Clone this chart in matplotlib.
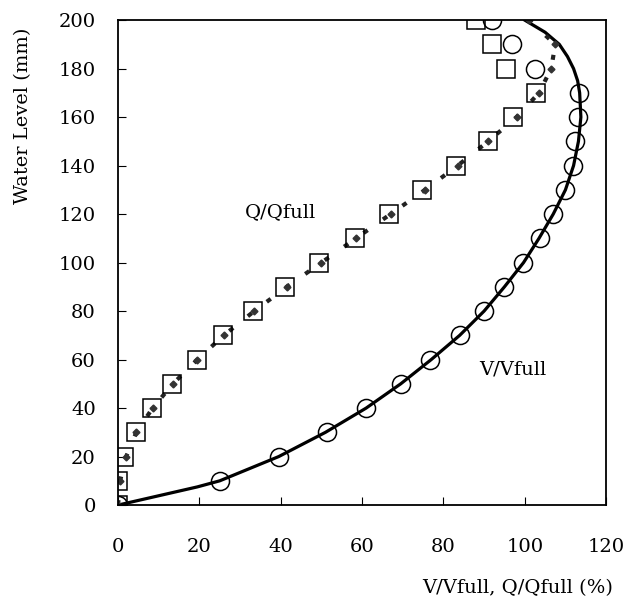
import matplotlib
matplotlib.use('Agg')
import matplotlib.pyplot as plt

plt.rcParams['font.family'] = ['DejaVu Serif']

# measured points (water level in mm)
level = [0, 10, 20, 30, 40, 50, 60, 70, 80, 90, 100,
         110, 120, 130, 140, 150, 160, 170, 180, 190, 200]
v_meas = [0, 25, 39.5, 51.4, 61, 69.6, 76.8, 84, 89.9, 94.8, 99.5,
          103.7, 107, 109.9, 111.9, 112.3, 113.1, 113.3, 102.5, 96.8, 91.9]
q_meas = [0, 0, 1.5, 4.4, 8.4, 13.3, 19.5, 25.7, 33.1, 41, 49.4,
          58.3, 66.7, 74.8, 83, 90.9, 97, 102.7, 95.3, 92, 88]

# theoretical curves
v_level = [0, 7.5, 10, 20, 30, 40, 50, 60, 70, 80, 90, 100, 110, 120,
           130, 140, 150, 160, 170, 175, 180, 185, 190, 195, 200]
v_theory = [0, 19.5, 25, 39.5, 51, 61, 69.5, 77, 84, 90, 95, 99.7, 103.5, 107,
            110, 112, 113.2, 113.8, 113.5, 113, 112, 110.5, 108.5, 105, 100]
q_level = [0, 10, 20, 30, 40, 50, 60, 70, 80, 90, 100,
           110, 120, 130, 140, 150, 160, 170, 180, 190, 200]
q_theory = [0, 0.5, 2, 4.5, 8.5, 13.5, 19.5, 26, 33.5, 41.5, 50,
            58.5, 67, 75.5, 83.5, 91, 98, 103.5, 106.5, 107.5, 101]

fig = plt.figure(figsize=(6.38, 6.10), dpi=100)
ax = fig.add_axes([0.185, 0.172, 0.765, 0.795])

ax.plot(v_theory, v_level, color='black', lw=2.3, zorder=2)
ax.plot(q_theory, q_level, color='#222222', lw=3, ls=(0, (1.2, 4.5)),
        marker='D', ms=3.5, mfc='#333333', mec='#333333', zorder=2)
ax.plot(v_meas, level, 'o', ms=13, mfc='none', mec='black', mew=1.1, zorder=3)
ax.plot(q_meas, level, 's', ms=13, mfc='none', mec='black', mew=1.1, zorder=3)

ax.text(40, 121, 'Q/Qfull', fontsize=14, ha='center', va='center')
ax.text(97, 56, 'V/Vfull', fontsize=14, ha='center', va='center')

ax.set_xlim(0, 120)
ax.set_ylim(0, 200)
ax.set_xticks(range(0, 121, 20))
ax.set_yticks(range(0, 201, 20))
ax.tick_params(direction='in', length=6, width=0.8, labelsize=14)
ax.tick_params(axis='x', pad=24)
ax.tick_params(axis='y', pad=16)
for s in ax.spines.values():
    s.set_linewidth(1.3)

fig.text(0.036, 0.81, 'Water Level (mm)', rotation=90, fontsize=14,
         ha='center', va='center')
fig.text(0.812, 0.036, 'V/Vfull, Q/Qfull (%)', fontsize=14,
         ha='center', va='center')

plt.savefig('out.png', dpi=100)
